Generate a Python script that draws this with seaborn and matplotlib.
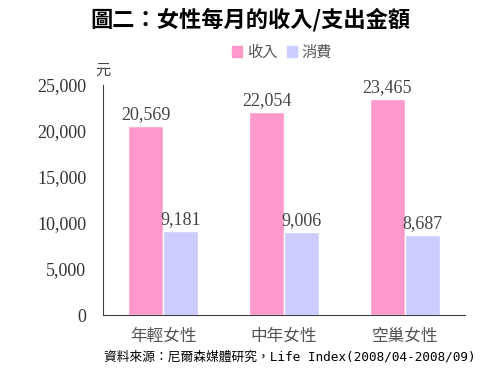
import numpy as np
import pandas as pd
import matplotlib.pyplot as plt
import seaborn as sns
from matplotlib.patches import Patch

# data
groups = ["年輕女性", "中年女性", "空巢女性"]
income = [20569, 22054, 23465]
spending = [9181, 9006, 8687]
series = ["收入", "消費"]
yticks = [0, 5000, 10000, 15000, 20000, 25000]

df = pd.DataFrame({
    "group": groups * 2,
    "kind": [series[0]] * 3 + [series[1]] * 3,
    "value": income + spending,
})

sns.set_theme(style="white")
plt.rcParams["font.family"] = ["Noto Sans CJK TC", "DejaVu Sans"]

fig = plt.figure(figsize=(5, 3.76), dpi=100)
ax = fig.add_axes([103 / 500, 1 - 315 / 376, 362 / 500, 230 / 376])

sns.barplot(data=df, x="group", y="value", hue="kind", hue_order=series,
            palette=["#FF99CC", "#CCCCFF"], width=0.58, saturation=1,
            ax=ax, legend=False)

ax.set_ylim(0, 25000)
ax.set_xlim(-0.5, 2.5)
ax.set_yticks(yticks)
ax.set_yticklabels([f"{v:,}" for v in yticks], family="Liberation Serif",
                   fontsize=13, color="#333333")
ax.set_xticklabels(groups, fontsize=12, color="#555555")
ax.tick_params(axis="x", length=0, pad=9)
ax.tick_params(axis="y", length=0, pad=12)
ax.set_xlabel("")
ax.set_ylabel("")
for s in ["top", "right"]:
    ax.spines[s].set_visible(False)
for s in ["left", "bottom"]:
    ax.spines[s].set_color("#404040")
    ax.spines[s].set_linewidth(0.8)

for cont in ax.containers:
    ax.bar_label(cont, labels=[f"{v:,.0f}" for v in cont.datavalues],
                 family="Liberation Serif", fontsize=13, color="#444444",
                 padding=2)

# legend
handles = [Patch(color="#FF99CC"), Patch(color="#CCCCFF")]
fig.legend(handles, series, loc="center", bbox_to_anchor=(282 / 500, 1 - 52 / 376),
           ncol=2, frameon=False, fontsize=11, handlelength=0.7, handleheight=0.7,
           handletextpad=0.3, columnspacing=0.6, labelcolor="#555555")

fig.text(103 / 500, 1 - 70 / 376, "元", fontsize=11, color="#444444",
         ha="center", va="center")
fig.text(0.5, 1 - 20 / 376, "圖二：女性每月的收入/支出金額", fontsize=16,
         fontweight="bold", ha="center", va="center", color="black")
fig.text(104 / 500, 1 - 357 / 376,
         "資料來源：尼爾森媒體研究，Life Index(2008/04-2008/09)",
         family=["DejaVu Sans Mono", "Noto Sans CJK TC"], fontsize=9.2,
         ha="left", va="center", color="black")

fig.savefig("out.png", dpi=100)
